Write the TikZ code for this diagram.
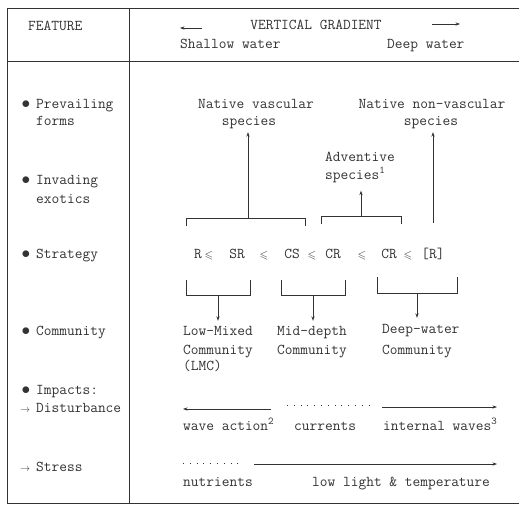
\documentclass[tikz,border=0pt]{standalone}
\usepackage{amssymb}
\usepackage{fontspec}
\usetikzlibrary{arrows.meta}
\definecolor{ink}{HTML}{333333}
\newcommand{\bul}{\llap{\fontsize{17}{17}\selectfont$\bullet$\hspace{6pt}}}
\newcommand{\sarr}{\llap{{\fontsize{10}{10}\selectfont$\rightarrow$}\hspace{6pt}}}
\newcommand{\leqs}{{\fontsize{11}{11}\selectfont$\leqslant$}}
\tikzset{
  txt/.style={inner sep=0pt, anchor=mid west, text=ink,
    font=\fontsize{15}{18}\selectfont\ttfamily},
  ctxt/.style={txt, anchor=mid},
  ln/.style={draw=ink, line width=0.7pt},
  tip/.style={-{Stealth[length=4.5pt,width=3.2pt]}},
  dots/.style={ln, dash pattern=on 0.8pt off 6pt},
}
\begin{document}
\begin{tikzpicture}[x=1pt,y=-1pt]
  \useasboundingbox[fill=white] (0,0) rectangle (519,505);
  % table frame
  \draw[ln, line width=0.9pt] (7,8) -- (519,8) (7,61) -- (519,61) (7,503) -- (519,503)
    (7,8) -- (7,503) (129,8) -- (129,503);
  % header
  \node[txt] (feat) at (28,28) {FEATURE};
  \node[ctxt] (vg) at (316,27) {VERTICAL GRADIENT};
  \node[txt] (shal) at (180,46) {Shallow water};
  \node[txt] (deep) at (387,46) {Deep water};
  \coordinate (gla) at (202,28);
  \coordinate (glb) at (180,28);
  \coordinate (gra) at (432,24);
  \coordinate (grb) at (460,24);
  \draw[ln,tip] (gla) -- (glb);
  \draw[ln,tip] (gra) -- (grb);
  % feature column
  \node[txt] (prev) at (36,106) {\bul Prevailing};
  \node[txt] (forms) at (36,123) {forms};
  \node[txt] (inv) at (36,182) {\bul Invading};
  \node[txt] (exo) at (36,201) {exotics};
  \node[txt] (strat) at (36,256) {\bul Strategy};
  \node[txt] (comm) at (36,333) {\bul Community};
  \node[txt] (imp) at (36,392) {\bul Impacts:};
  \node[txt] (dist) at (36,410) {\sarr Disturbance};
  \node[txt] (stress) at (36,469) {\sarr Stress};
  % prevailing forms / exotics
  \node[ctxt] (nv) at (256,106) {Native vascular};
  \node[ctxt] (nvs) at (249,123) {species};
  \node[ctxt] (nn) at (432,106) {Native non-vascular};
  \node[ctxt] (nns) at (431,123) {species};
  \node[txt] (adv) at (325,159) {Adventive};
  \node[txt] (advs) at (325,177) {species\textsuperscript{1}};
  % strategy
  \foreach \x/\t [count=\i] in {198/R, 209/\leqs, 237/SR, 264/\leqs,
      292/CS, 312/\leqs, 333/CR, 362/\leqs, 389/CR,
      408/\leqs, 433/{[R]}}
    \node[ctxt] (st\i) at (\x,256) {\t};
  % upper brackets
  \draw[ln] (186,226) |- (305,218) -- (305,226);
  \draw[ln] (321,224) |- (401,216) -- (401,224);
  \coordinate (ub1) at (248,218);
  \coordinate (ub2) at (361,216);
  \coordinate (nnb) at (433,223);
  \draw[ln,tip,shorten >=3.5pt] (ub1) -- (ub1 |- nvs.south);
  \draw[ln,tip,shorten >=8pt] (ub2) -- (ub2 |- advs.south);
  \draw[ln,tip,shorten >=3.5pt] (nnb) -- (nnb |- nns.south);
  % lower brackets
  \draw[ln] (186,280) |- (250,295) -- (250,280);
  \draw[ln] (281,280) |- (345,295) -- (345,280);
  \draw[ln] (377,277) |- (457,293) -- (457,277);
  \coordinate (lb1) at (218,295);
  \coordinate (lb2) at (313,295);
  \coordinate (lb3) at (417,293);
  % community
  \node[txt] (lm1) at (183,333) {Low-Mixed};
  \node[txt] (lm2) at (183,352) {Community};
  \node[txt] (lm3) at (183,368) {(LMC)};
  \node[txt] (md1) at (277,333) {Mid-depth};
  \node[txt] (md2) at (277,352) {Community};
  \node[txt] (dw1) at (382,331) {Deep-water};
  \node[txt] (dw2) at (382,352) {Community};
  \draw[ln,tip,shorten >=5pt] (lb1) -- (lb1 |- lm1.north);
  \draw[ln,tip,shorten >=5pt] (lb2) -- (lb2 |- md1.north);
  \draw[ln,tip,shorten >=6pt] (lb3) -- (lb3 |- dw1.north);
  % disturbance
  \coordinate (da) at (271,409);
  \coordinate (db) at (183,409);
  \coordinate (dc) at (287,405);
  \coordinate (dd) at (372,405);
  \coordinate (de) at (382,407);
  \coordinate (df) at (497,407);
  \draw[ln,tip] (da) -- (db);
  \draw[dots] (dc) -- (dd);
  \draw[ln,tip] (de) -- (df);
  \node[txt] (wave) at (183,428) {wave action\textsuperscript{2}};
  \node[txt] (curr) at (294,428) {currents};
  \node[txt] (intw) at (383,428) {internal waves\textsuperscript{3}};
  % stress
  \coordinate (sa) at (183,463);
  \coordinate (sb) at (240,463);
  \coordinate (sc) at (254,464);
  \coordinate (sd) at (497,464);
  \draw[dots] (sa) -- (sb);
  \draw[ln,tip] (sc) -- (sd);
  \node[txt] (nutr) at (183,484) {nutrients};
  \node[txt] (lowl) at (312,484) {low light \& temperature};
\end{tikzpicture}
\end{document}
